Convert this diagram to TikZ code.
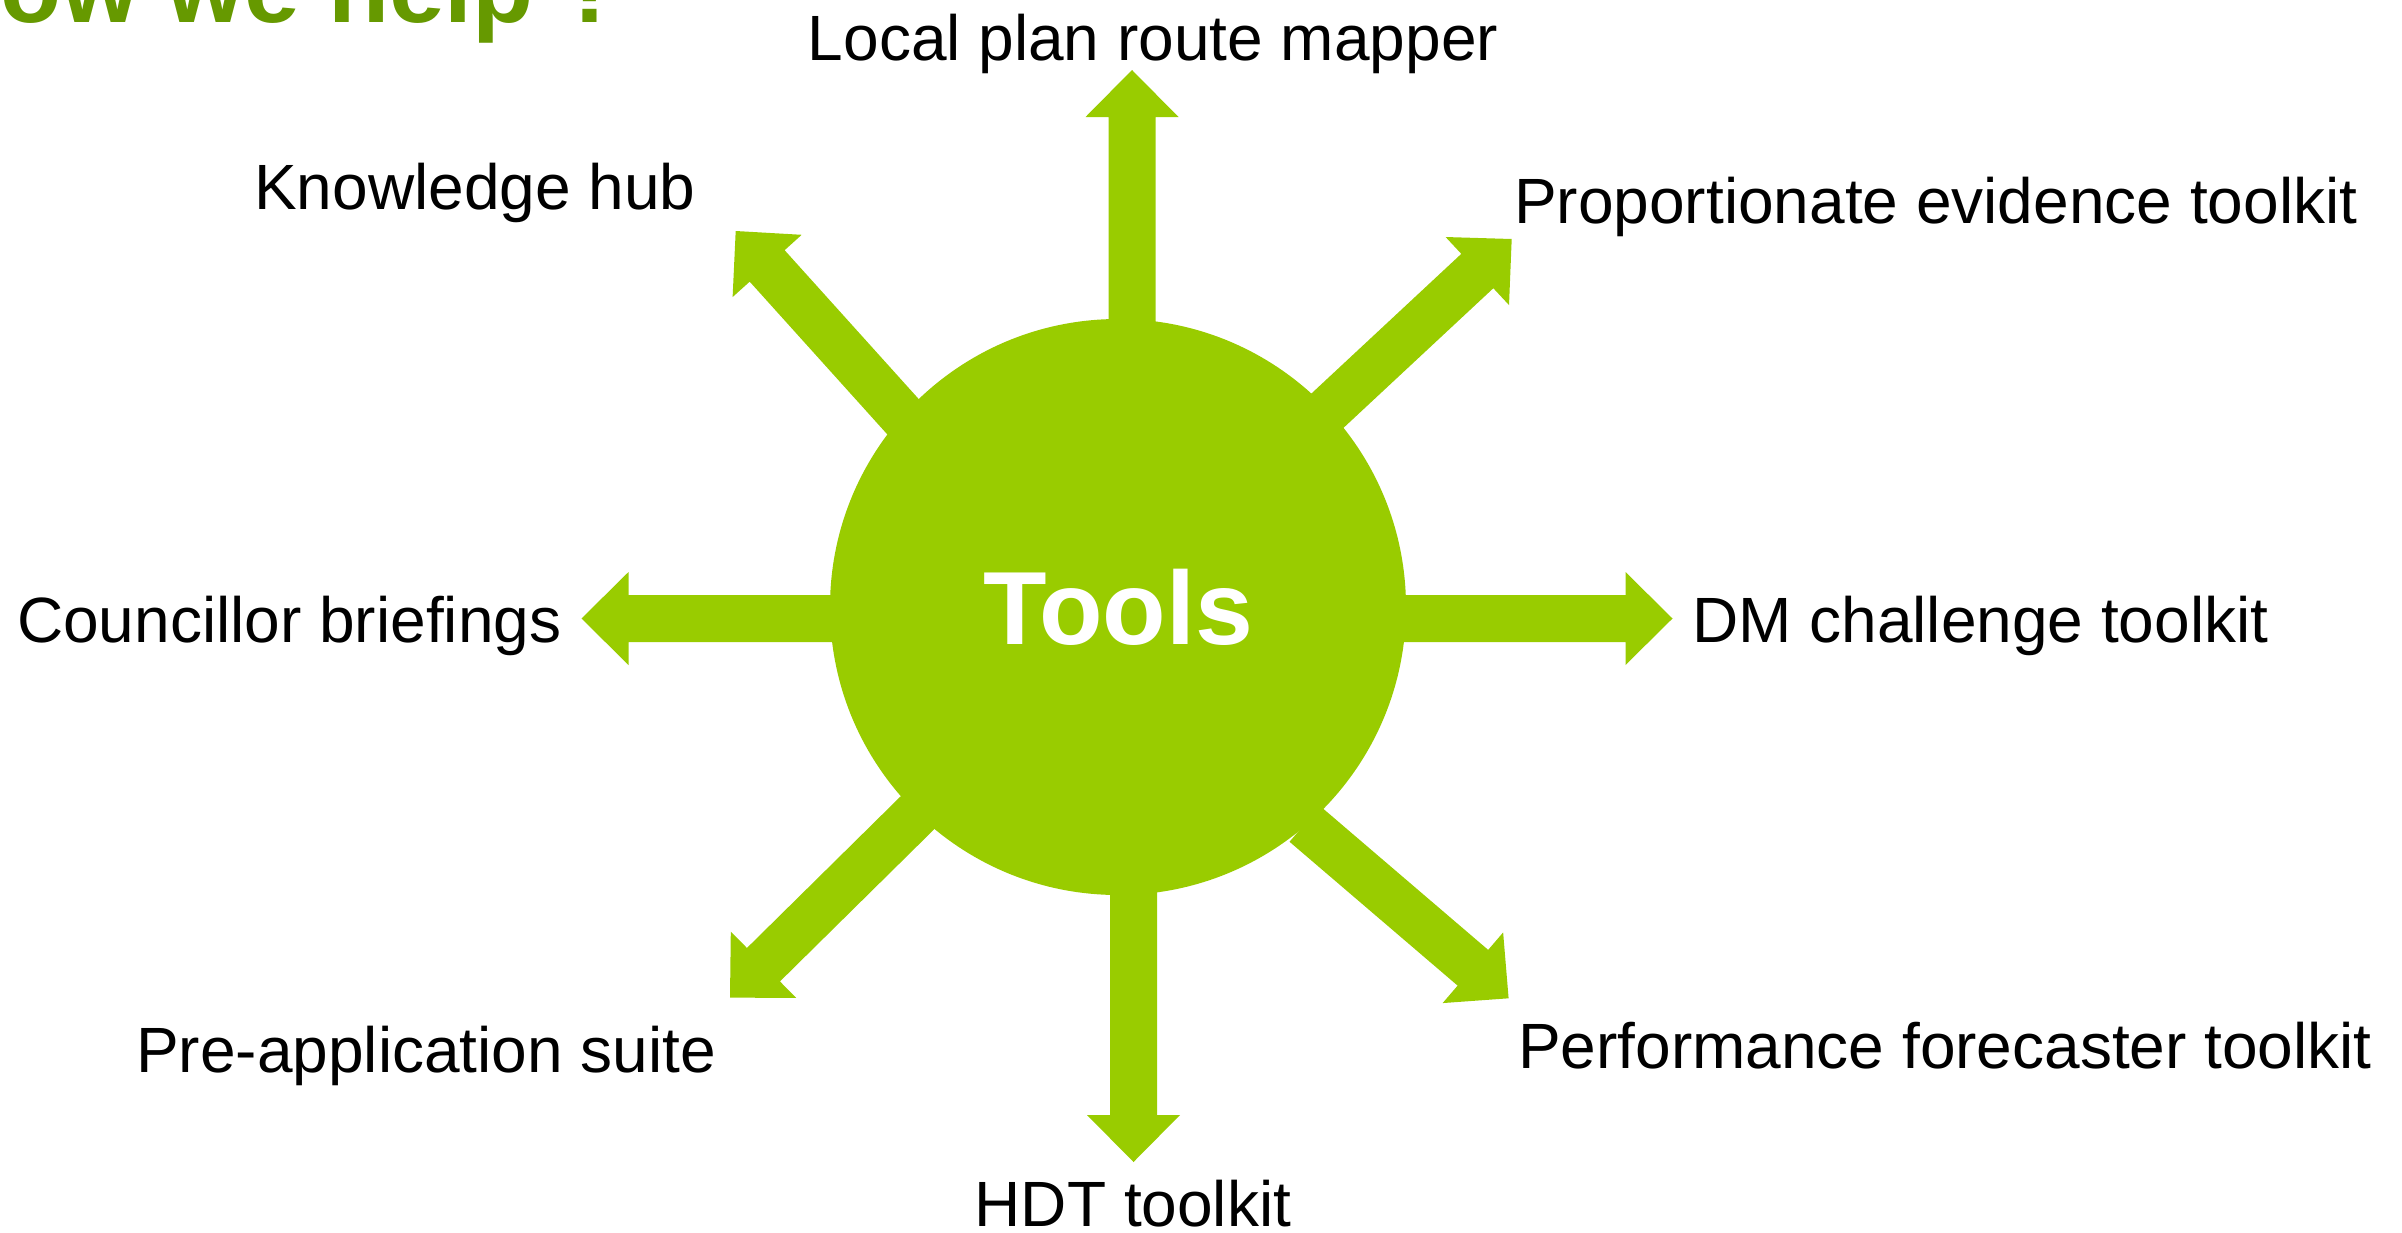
\documentclass[tikz,border=0pt]{standalone}
\usepackage{fontspec}
\setmainfont{Liberation Sans}
\usetikzlibrary{calc}
\definecolor{toolgreen}{HTML}{99CC00}
\definecolor{titlegreen}{HTML}{669900}
\pgfdeclarelayer{background}
\pgfsetlayers{background,main}
% #1 = start coordinate name, #2 = tip coordinate name
\newcommand\fatarrow[2]{%
  \coordinate (#1-base) at ($(#2)!47pt!(#1)$);
  \fill[arrowfill]
    ($(#1)!23.5pt!90:(#2)$) --
    ($(#1-base)!23.5pt!90:(#2)$) --
    ($(#1-base)!46.5pt!90:(#2)$) --
    (#2) --
    ($(#1-base)!46.5pt!-90:(#2)$) --
    ($(#1-base)!23.5pt!-90:(#2)$) --
    ($(#1)!23.5pt!-90:(#2)$) -- cycle;}
\tikzset{
  arrowfill/.style={fill=toolgreen, draw=none},
  hub/.style={circle, fill=toolgreen, draw=none, minimum size=576pt, inner sep=0pt,
    text=white, font=\fontsize{104}{120}\selectfont\bfseries},
  lbl/.style={inner sep=0pt, text=black, font=\fontsize{64}{77}\selectfont},
  titletext/.style={inner sep=0pt, text=titlegreen, font=\fontsize{100}{120}\selectfont\bfseries}
}
\begin{document}
\begin{tikzpicture}[x=1pt,y=-1pt]
\useasboundingbox (0,0) rectangle (2402,1232);
\begin{scope}
  \clip (0,0) rectangle (2402,1232);
  \node[titletext, anchor=base west] (title) at (-72,22) {How we help ?};
\end{scope}

% central hub
\node[hub] (hub) at (1118,607) {Tools};

% labels
\node[lbl, anchor=base] (lp) at (1153,60) {Local plan route mapper};
\node[lbl, anchor=base west] (kh) at (254,209) {Knowledge hub};
\node[lbl, anchor=base west] (pe) at (1514,223) {Proportionate evidence toolkit};
\node[lbl, anchor=base west] (cb) at (17,642) {Councillor briefings};
\node[lbl, anchor=base west] (dm) at (1692,642) {DM challenge toolkit};
\node[lbl, anchor=base west] (pa) at (136,1072) {Pre-application suite};
\node[lbl, anchor=base west] (pf) at (1518,1068) {Performance forecaster toolkit};
\node[lbl, anchor=base] (hdt) at (1133,1226) {HDT toolkit};

% arrow starts (inside hub) and tips (next to labels)
\coordinate (sN)  at (1132,450);    \coordinate (tN)  at (1132,70);
\coordinate (sS)  at (1133.5,780);  \coordinate (tS)  at (1133.5,1162);
\coordinate (sW)  at (900,618.5);   \coordinate (tW)  at (581.5,618.5);
\coordinate (sE)  at (1330,618.5);  \coordinate (tE)  at (1672.5,618.5);
\coordinate (sNW) at (1034.8,563);  \coordinate (tNW) at (735.7,231);
\coordinate (sNE) at (1221.3,509.6);\coordinate (tNE) at (1511.7,239);
\coordinate (sSW) at (1012.7,718.8);\coordinate (tSW) at (730,997.7);
\coordinate (sSE) at (1304.8,823.9);\coordinate (tSE) at (1508.6,998.3);

\begin{pgfonlayer}{background}
  \fatarrow{sN}{tN}
  \fatarrow{sS}{tS}
  \fatarrow{sW}{tW}
  \fatarrow{sE}{tE}
  \fatarrow{sNW}{tNW}
  \fatarrow{sNE}{tNE}
  \fatarrow{sSW}{tSW}
  \fatarrow{sSE}{tSE}
\end{pgfonlayer}
\end{tikzpicture}
\end{document}
